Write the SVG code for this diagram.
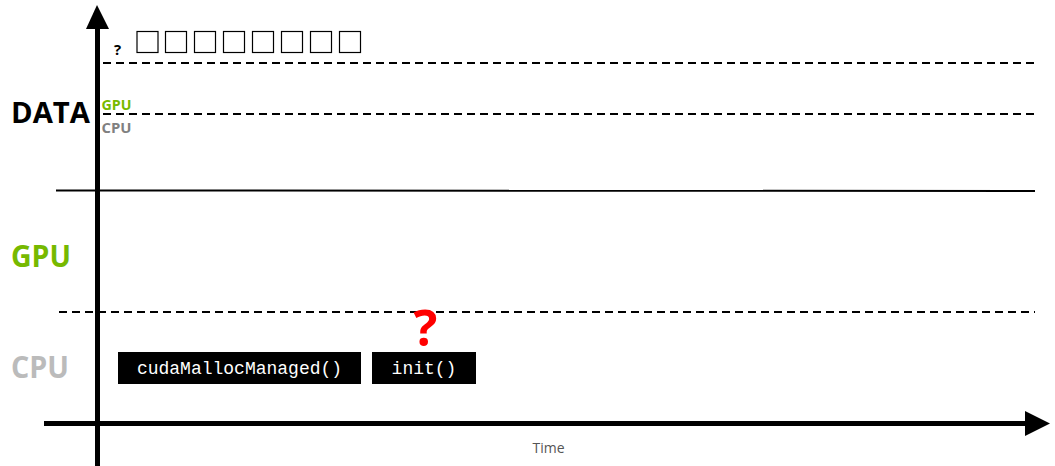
<svg xmlns="http://www.w3.org/2000/svg" width="1055" height="466" viewBox="0 0 1055 466">
<style>
.dash{stroke:#000;stroke-width:2;stroke-dasharray:8 5;fill:none}
.solid{stroke:#000;stroke-width:2;fill:none}
.axis{stroke:#000;stroke-width:5;fill:none}
.sq{fill:#fff;stroke:#000;stroke-width:1.2}
.lbl{font-family:"Open Sans","DejaVu Sans",sans-serif;font-weight:bold}
.box{fill:#000}
.code{font-family:"Liberation Mono","Courier New",monospace;font-size:18px;fill:#fff}
</style>
<rect width="1055" height="466" fill="#fff"/>
<g id="guides">
<line class="dash" x1="103" y1="63" x2="1035" y2="63"/>
<line class="dash" x1="103" y1="114" x2="1035" y2="114"/>
<line class="solid" x1="56" y1="190.5" x2="1035" y2="191"/>
<line class="dash" x1="59" y1="312" x2="1035" y2="312"/>
</g>
<g id="connectors">
<line class="axis" x1="97.5" y1="466" x2="97.5" y2="26"/>
<polygon points="97,5 86,29 109,29" fill="#000"/>
<line class="axis" x1="44" y1="423.5" x2="1028" y2="423.5"/>
<polygon points="1050,423.5 1025,411 1025,436" fill="#000"/>
</g>
<g id="labels">
<text class="lbl" x="11" y="123" font-size="28" textLength="79" lengthAdjust="spacingAndGlyphs" fill="#000">DATA</text>
<text class="lbl" x="101.5" y="110" font-size="15" textLength="30" lengthAdjust="spacingAndGlyphs" fill="#76b900">GPU</text>
<text class="lbl" x="101.5" y="132.5" font-size="15" textLength="30" lengthAdjust="spacingAndGlyphs" fill="#808080">CPU</text>
<text class="lbl" x="11" y="267" font-size="30" textLength="60" lengthAdjust="spacingAndGlyphs" fill="#76b900">GPU</text>
<text class="lbl" x="11" y="377.5" font-size="30" textLength="58" lengthAdjust="spacingAndGlyphs" fill="#bbbbbb">CPU</text>
<text x="548.5" y="452.5" font-family="'Open Sans','DejaVu Sans',sans-serif" font-size="14" fill="#555" text-anchor="middle">Time</text>
</g>
<g id="data-blocks">
<text class="lbl" x="117.5" y="55" font-size="15" fill="#000" text-anchor="middle">?</text>
<rect class="sq" x="137" y="31.5" width="21" height="21"/>
<rect class="sq" x="165.5" y="31.5" width="21" height="21"/>
<rect class="sq" x="194.5" y="31.5" width="21" height="21"/>
<rect class="sq" x="223.5" y="31.5" width="21" height="21"/>
<rect class="sq" x="252.5" y="31.5" width="21" height="21"/>
<rect class="sq" x="281.5" y="31.5" width="21" height="21"/>
<rect class="sq" x="310.5" y="31.5" width="21" height="21"/>
<rect class="sq" x="339.5" y="31.5" width="21" height="21"/>
</g>
<g id="node-cudaMallocManaged">
<rect class="box" x="118" y="352" width="243" height="32"/>
<text class="code" x="239.5" y="374" text-anchor="middle">cudaMallocManaged()</text>
</g>
<g id="node-init">
<rect class="box" x="372" y="352" width="104" height="32"/>
<text class="code" x="424" y="374" text-anchor="middle">init()</text>
</g>
<g id="question">
<text class="lbl" x="425.5" y="345.5" font-size="50" fill="#ff0000" text-anchor="middle">?</text>
</g>
</svg>
